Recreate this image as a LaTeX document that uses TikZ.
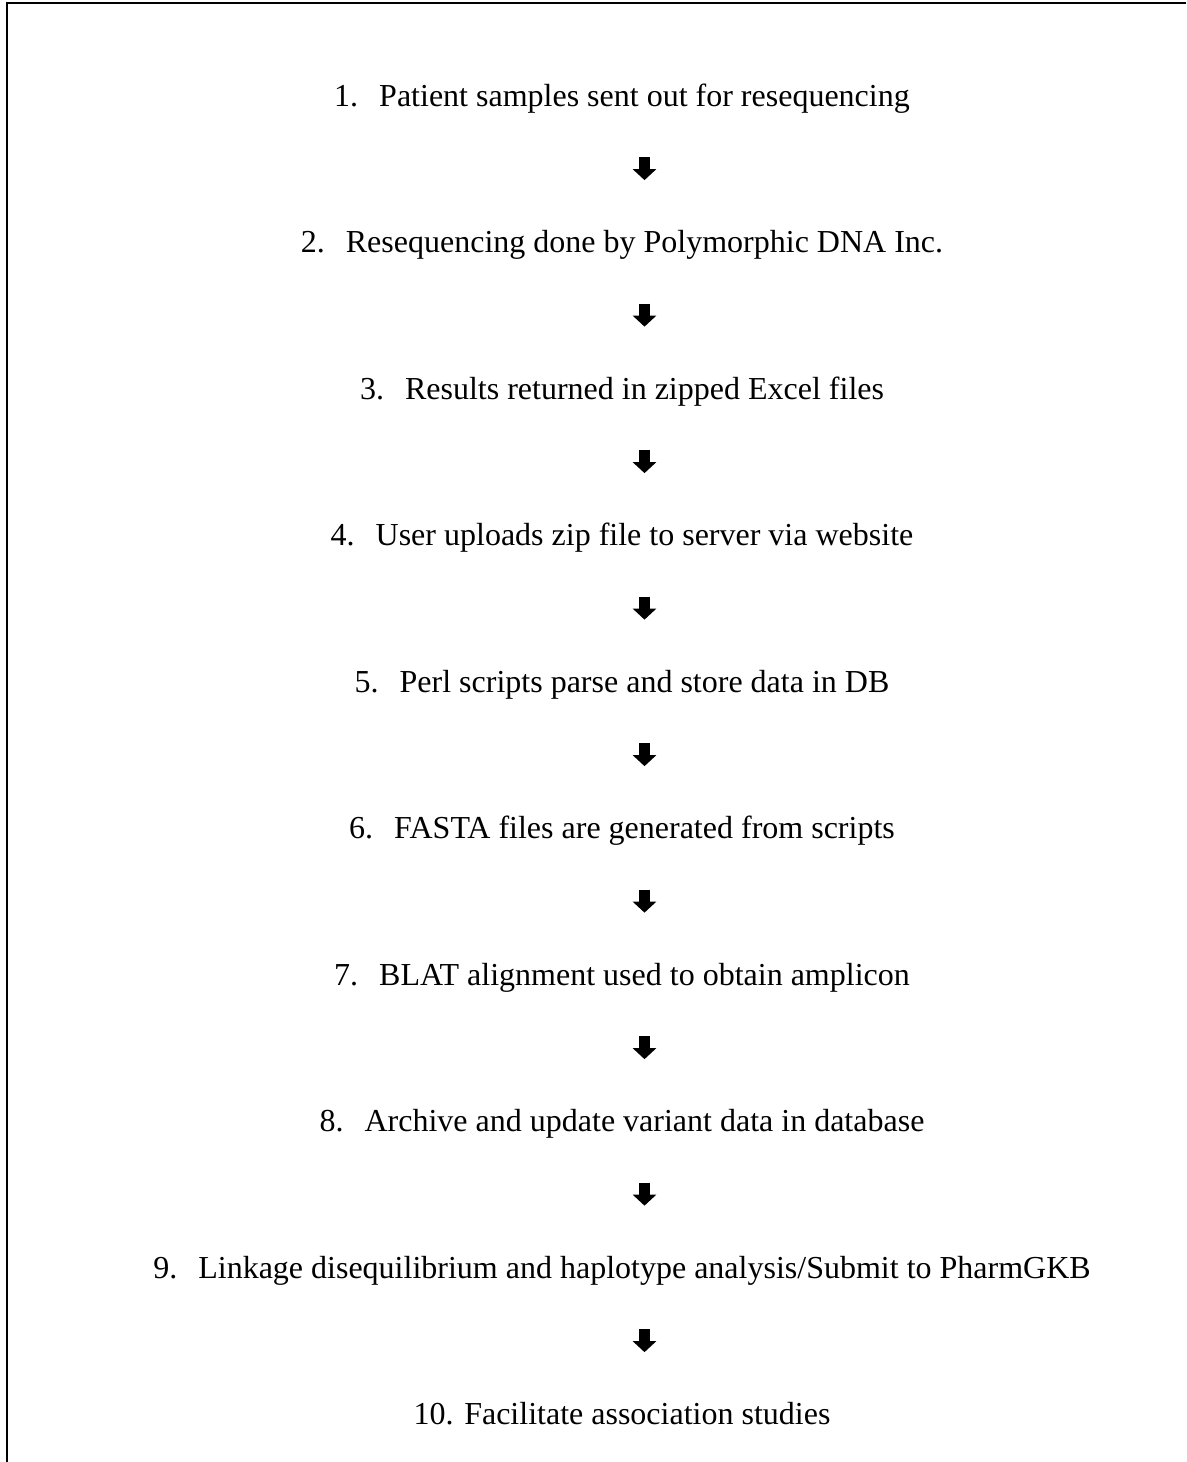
\documentclass[tikz,border=0pt]{standalone}
\usepackage{fontspec}
\setmainfont{Liberation Serif}
\usetikzlibrary{arrows.meta,calc}
% number set in a fixed-width slot, then the step text
\newcommand\flowitem[2]{\makebox[33.75pt][l]{#1}#2}
\begin{document}
\begin{tikzpicture}[x=0.75pt,y=-0.75pt,
  stepbox/.style={inner sep=0pt, font=\fontsize{24}{28}\selectfont,
    text height=16pt, text depth=5.3pt},
  flow/.style={line width=8.25pt,
    -{Triangle[width=17.25pt,length=8.25pt]}}]
\useasboundingbox (0,0) rectangle (1186,1462);
% frame
\draw[line width=1.5pt] (7,1462) -- (7,3) -- (1186,3);
% steps
\node[stepbox] (s1)  at (622,98.9)   {\flowitem{1.}{Patient samples sent out for resequencing}};
\node[stepbox] (s2)  at (622,245.4)  {\flowitem{2.}{Resequencing done by Polymorphic DNA Inc.}};
\node[stepbox] (s3)  at (622,391.9)  {\flowitem{3.}{Results returned in zipped Excel files}};
\node[stepbox] (s4)  at (622,538.4)  {\flowitem{4.}{User uploads zip file to server via website}};
\node[stepbox] (s5)  at (622,684.9)  {\flowitem{5.}{Perl scripts parse and store data in DB}};
\node[stepbox] (s6)  at (622,831.4)  {\flowitem{6.}{FASTA files are generated from scripts}};
\node[stepbox] (s7)  at (622,977.9)  {\flowitem{7.}{BLAT alignment used to obtain amplicon}};
\node[stepbox] (s8)  at (622,1124.4) {\flowitem{8.}{Archive and update variant data in database}};
\node[stepbox] (s9)  at (622,1270.9) {\flowitem{9.}{Linkage disequilibrium and haplotype analysis/Submit to PharmGKB}};
\node[stepbox] (s10) at (622,1417.4) {10. Facilitate association studies};
% block arrows between consecutive steps
\foreach \a/\b in {s1/s2,s2/s3,s3/s4,s4/s5,s5/s6,s6/s7,s7/s8,s8/s9,s9/s10}
  \draw[flow] ($(\a)!0.5!(\b)+(22.5,-15)$) -- ($(\a)!0.5!(\b)+(22.5,8)$);
\end{tikzpicture}
\end{document}
